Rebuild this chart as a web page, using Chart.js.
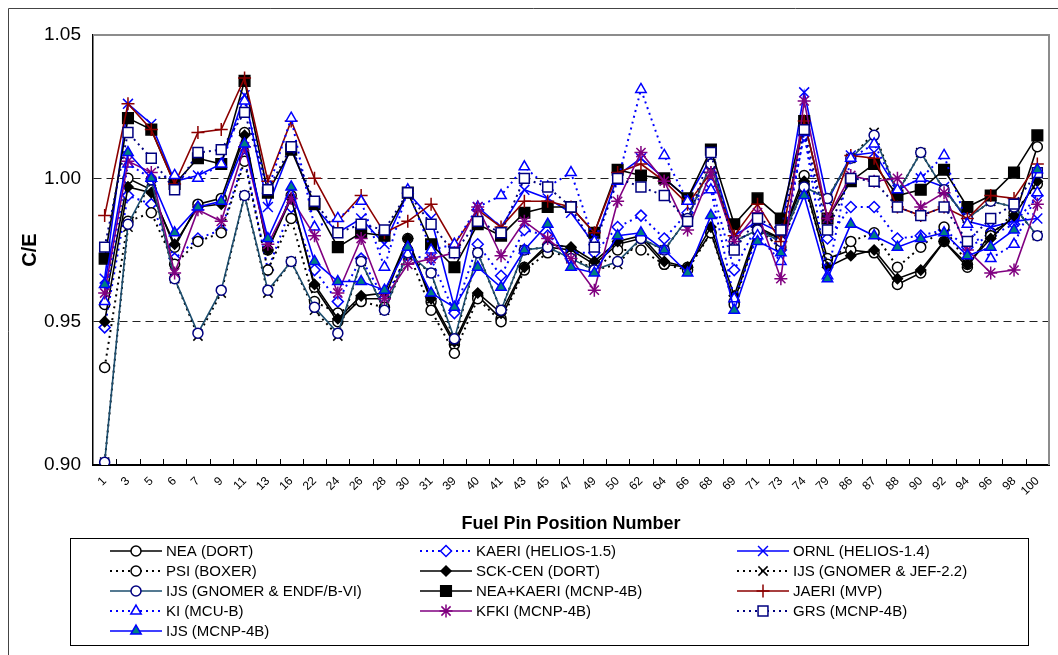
<!DOCTYPE html>
<html>
<head>
<meta charset="utf-8">
<script src="https://cdn.jsdelivr.net/npm/chart.js"></script>
<style>
  html, body { margin: 0; padding: 0; background: #fff; }
  #wrap { width: 1058px; height: 655px; }
</style>
</head>
<body>
<div id="wrap"><canvas id="ceChart" width="1058" height="655"></canvas></div>
<script>
// fuel pin positions (x categories)
const pins = ['1','3','5','6','7','9','11','13','16','22','24','26','28','30','31','39','40','41','43','45',
  '47','49','50','62','64','66','68','69','71','73','74','79','86','87','88','90','92','94','96','98','100'];

const yTicks = [0.90, 0.95, 1.00, 1.05];

// C/E values, one array per calculation
const neaDort = [0.956,1.000,0.996,0.976,0.991,0.993,1.016,0.975,0.994,0.962,0.950,0.958,0.958,0.979,0.957,0.942,0.959,0.951,0.969,0.976,
  0.975,0.970,0.977,0.979,0.970,0.969,0.981,0.957,0.982,0.979,1.001,0.972,0.975,0.974,0.963,0.967,0.978,0.969,0.981,0.986,1.011];
const kaeriHelios = [0.948,0.994,0.991,0.972,0.979,0.982,1.007,0.968,0.990,0.968,0.957,0.972,0.958,0.973,0.972,0.953,0.977,0.966,0.982,0.980,
  0.974,0.974,0.983,0.987,0.979,0.988,0.998,0.968,0.984,0.975,1.015,0.979,0.990,0.990,0.979,0.980,0.982,0.976,0.980,0.984,0.994];
const ornlHelios = [0.965,1.026,1.019,0.999,1.001,1.005,1.029,0.990,1.011,0.990,0.981,0.986,0.977,0.995,0.986,0.955,0.990,0.983,0.996,0.993,
  0.988,0.977,1.001,1.007,1.000,0.993,1.007,0.980,0.985,0.981,1.030,0.992,1.008,1.009,0.996,1.000,0.997,0.985,0.983,0.985,0.986];
const psiBoxer = [0.934,0.985,0.988,0.970,0.978,0.981,1.006,0.968,0.986,0.957,0.953,0.957,0.955,0.975,0.954,0.939,0.958,0.950,0.968,0.974,
  0.973,0.968,0.975,0.975,0.970,0.968,0.981,0.956,0.982,0.976,0.998,0.970,0.978,0.981,0.969,0.976,0.983,0.970,0.980,0.988,0.998];
const sckCenDort = [0.950,0.997,0.995,0.977,0.990,0.991,1.015,0.975,0.993,0.963,0.951,0.959,0.960,0.979,0.958,0.943,0.960,0.953,0.969,0.977,
  0.976,0.971,0.978,0.980,0.971,0.969,0.983,0.959,0.983,0.979,0.999,0.969,0.973,0.975,0.965,0.968,0.978,0.970,0.979,0.987,0.999];
const ijsJef = [0.901,0.983,0.999,0.965,0.945,0.960,0.994,0.960,0.971,0.954,0.945,0.971,0.954,0.973,0.967,0.943,0.974,0.954,0.975,0.976,
  0.972,0.968,0.970,0.979,0.975,0.986,1.005,0.978,0.982,0.978,0.997,0.993,1.007,1.016,0.995,1.009,0.996,0.986,0.992,0.990,0.980];
const ijsEndf = [0.901,0.984,0.9995,0.965,0.946,0.961,0.994,0.961,0.971,0.955,0.946,0.971,0.954,0.974,0.967,0.944,0.974,0.954,0.975,0.976,
  0.972,0.968,0.971,0.979,0.975,0.986,1.005,0.978,0.982,0.978,0.997,0.993,1.007,1.015,0.995,1.009,0.996,0.986,0.992,0.990,0.980];
const neaKaeriMcnp = [0.972,1.021,1.017,0.998,1.007,1.005,1.034,0.995,1.010,0.991,0.976,0.981,0.980,0.995,0.977,0.969,0.984,0.980,0.988,0.990,
  0.990,0.981,1.003,1.001,1.000,0.993,1.010,0.984,0.993,0.986,1.020,0.986,0.999,1.005,0.994,0.996,1.003,0.990,0.994,1.002,1.015];
const jaeriMvp = [0.987,1.026,1.017,0.998,1.016,1.017,1.035,0.999,1.020,1.000,0.985,0.994,0.981,0.985,0.991,0.977,0.989,0.983,0.992,0.992,
  0.990,0.981,1.002,1.005,0.999,0.991,1.002,0.980,0.991,0.978,1.020,0.986,1.008,1.007,0.990,0.987,0.990,0.986,0.994,0.993,1.005];
const kiMcu = [0.957,1.005,1.000,1.001,1.000,1.005,1.027,0.996,1.021,0.983,0.986,0.992,0.969,0.996,0.975,0.977,0.990,0.994,1.004,0.997,
  1.002,0.978,0.999,1.031,1.008,0.992,0.996,0.958,0.980,0.971,1.016,0.966,1.007,1.012,0.996,1.000,1.008,0.984,0.972,0.977,0.995];
const kfkiMcnp = [0.960,1.006,1.002,0.967,0.989,0.985,1.011,0.977,0.993,0.980,0.960,0.979,0.958,0.970,0.972,0.974,0.990,0.973,0.985,0.979,
  0.972,0.961,0.992,1.009,0.999,0.982,1.002,0.978,0.988,0.965,1.027,0.986,1.001,0.999,1.000,0.990,0.995,0.975,0.967,0.968,0.991];
const grsMcnp = [0.976,1.016,1.007,0.996,1.009,1.010,1.023,0.996,1.011,0.992,0.981,0.984,0.982,0.995,0.984,0.974,0.985,0.981,1.000,0.997,
  0.990,0.976,1.000,0.997,0.994,0.985,1.009,0.975,0.986,0.982,1.017,0.982,1.000,0.999,0.990,0.987,0.990,0.978,0.986,0.991,1.002];
const ijsMcnp = [0.963,1.009,1.000,0.981,0.990,0.992,1.012,0.979,0.997,0.971,0.964,0.964,0.961,0.976,0.960,0.955,0.969,0.962,0.975,0.984,
  0.969,0.967,0.980,0.981,0.975,0.967,0.987,0.954,0.978,0.974,0.994,0.965,0.984,0.980,0.976,0.979,0.981,0.973,0.976,0.982,1.003];

const FONT = '"Liberation Sans", Arial, sans-serif';
const DOTTED = [2, 4];

function makeSeries(label, data, line, dash, marker, radius, fill, edge) {
  return {
    label: label,
    data: data,
    borderColor: line,
    borderWidth: dash ? 2 : 1.6,
    borderDash: dash || [],
    pointStyle: marker,
    pointRadius: radius,
    pointHoverRadius: radius,
    pointBackgroundColor: fill,
    pointBorderColor: edge,
    pointBorderWidth: 1.5,
    fill: false,
    tension: 0
  };
}

// legend order is row by row, three columns
const datasets = [
  makeSeries('NEA (DORT)', neaDort, '#000', null, 'circle', 5, '#fff', '#000'),
  makeSeries('KAERI (HELIOS-1.5)', kaeriHelios, '#0000ff', DOTTED, 'rectRot', 5.5, '#fff', '#0000ff'),
  makeSeries('ORNL (HELIOS-1.4)', ornlHelios, '#0000ff', null, 'crossRot', 7, '#0000ff', '#0000ff'),
  makeSeries('PSI (BOXER)', psiBoxer, '#000', DOTTED, 'circle', 5, '#fff', '#000'),
  makeSeries('SCK-CEN (DORT)', sckCenDort, '#000', null, 'rectRot', 5, '#000', '#000'),
  makeSeries('IJS (GNOMER & JEF-2.2)', ijsJef, '#000', DOTTED, 'crossRot', 6.5, '#000', '#000'),
  makeSeries('IJS (GNOMER & ENDF/B-VI)', ijsEndf, '#1d4e6e', null, 'circle', 5, '#fff', '#000080'),
  makeSeries('NEA+KAERI (MCNP-4B)', neaKaeriMcnp, '#000', null, 'rect', 7.5, '#000', '#000'),
  makeSeries('JAERI (MVP)', jaeriMvp, '#8b0000', null, 'cross', 6.5, '#8b0000', '#8b0000'),
  makeSeries('KI (MCU-B)', kiMcu, '#0000ff', DOTTED, 'triangle', 6, '#fff', '#0000ff'),
  makeSeries('KFKI (MCNP-4B)', kfkiMcnp, '#800080', null, 'star', 6.5, '#800080', '#800080'),
  makeSeries('GRS (MCNP-4B)', grsMcnp, '#000080', DOTTED, 'rect', 7, '#fff', '#000080'),
  makeSeries('IJS (MCNP-4B)', ijsMcnp, '#0000ff', null, 'triangle', 6, '#008080', '#0000ff')
];
// later series sit on top, like the original spreadsheet plot
datasets.forEach((ds, i) => { ds.order = datasets.length - i; });

const frameAndLegend = {
  id: 'frameAndLegend',
  afterDraw(chart) {
    const ctx = chart.ctx;
    const area = chart.chartArea;
    ctx.save();

    // outer frame
    ctx.strokeStyle = '#444';
    ctx.lineWidth = 1;
    ctx.beginPath();
    ctx.moveTo(8.5, chart.height);
    ctx.lineTo(8.5, 8.5);
    ctx.lineTo(chart.width, 8.5);
    ctx.stroke();

    // grey top and right edges of the plot area
    ctx.strokeStyle = '#8c8c8c';
    ctx.lineWidth = 2;
    ctx.beginPath();
    ctx.moveTo(area.left, area.top);
    ctx.lineTo(area.right, area.top);
    ctx.lineTo(area.right, area.bottom);
    ctx.stroke();

    // small inward tick marks between categories
    const n = pins.length;
    const step = (area.right - area.left) / n;
    ctx.strokeStyle = '#000';
    ctx.lineWidth = 1;
    ctx.beginPath();
    for (let i = 1; i < n; i++) {
      const x = Math.round(area.left + i * step) + 0.5;
      ctx.moveTo(x, area.bottom);
      ctx.lineTo(x, area.bottom - 6);
    }
    ctx.stroke();

    // legend box
    const box = { x: 70, y: 538, w: 958, h: 107 };
    ctx.strokeStyle = '#000';
    ctx.lineWidth = 1;
    ctx.strokeRect(box.x + 0.5, box.y + 0.5, box.w, box.h);

    const colX = [110, 420, 737];
    chart.data.datasets.forEach((ds, i) => {
      const x0 = colX[i % 3];
      const y = 551 + Math.floor(i / 3) * 20;
      ctx.strokeStyle = ds.borderColor;
      ctx.lineWidth = ds.borderWidth;
      ctx.setLineDash(ds.borderDash);
      ctx.beginPath();
      ctx.moveTo(x0, y);
      ctx.lineTo(x0 + 52, y);
      ctx.stroke();
      ctx.setLineDash([]);
      ctx.fillStyle = ds.pointBackgroundColor;
      ctx.strokeStyle = ds.pointBorderColor;
      ctx.lineWidth = ds.pointBorderWidth;
      Chart.helpers.drawPoint(ctx, {
        pointStyle: ds.pointStyle, radius: ds.pointRadius, borderWidth: ds.pointBorderWidth, rotation: 0
      }, x0 + 26, y);
      ctx.fillStyle = '#000';
      ctx.font = '15px ' + FONT;
      ctx.textBaseline = 'middle';
      ctx.textAlign = 'left';
      ctx.fillText(ds.label, x0 + 56, y + 1);
    });
    ctx.restore();
  }
};

new Chart(document.getElementById('ceChart'), {
  type: 'line',
  data: { labels: pins, datasets: datasets },
  options: {
    responsive: false,
    animation: false,
    layout: { padding: { left: 0, right: 9, top: 35, bottom: 0 } },
    plugins: { legend: { display: false }, tooltip: { enabled: false } },
    scales: {
      x: {
        offset: true,
        afterFit(scale) { scale.height = 190; },
        grid: { display: false, drawTicks: false },
        border: { color: '#000', width: 2 },
        ticks: {
          autoSkip: false, minRotation: 45, maxRotation: 45, padding: 9,
          color: '#000', font: { family: FONT, size: 12 }
        },
        title: {
          display: true, text: 'Fuel Pin Position Number', color: '#000',
          font: { family: FONT, size: 18, weight: 'bold' }, padding: { top: 0, bottom: 120 }
        }
      },
      y: {
        min: 0.9,
        max: 1.05,
        afterFit(scale) { scale.width = 93; },
        afterBuildTicks(scale) { scale.ticks = yTicks.map(v => ({ value: v })); },
        grid: {
          drawTicks: false,
          lineWidth: 1,
          color: c => (c.tick && (Math.abs(c.tick.value - 1) < 1e-6 || Math.abs(c.tick.value - 0.95) < 1e-6)) ? '#222' : 'rgba(0,0,0,0)'
        },
        border: { color: '#000', width: 1.5, dash: [8, 5] },
        ticks: {
          padding: 12, color: '#000', font: { family: FONT, size: 19 },
          callback: v => Number(v).toFixed(2)
        },
        title: {
          display: true, text: 'C/E', color: '#000',
          font: { family: FONT, size: 20, weight: 'bold' }, padding: { top: 18, bottom: 0 }
        }
      }
    }
  },
  plugins: [frameAndLegend]
});
</script>
</body>
</html>
